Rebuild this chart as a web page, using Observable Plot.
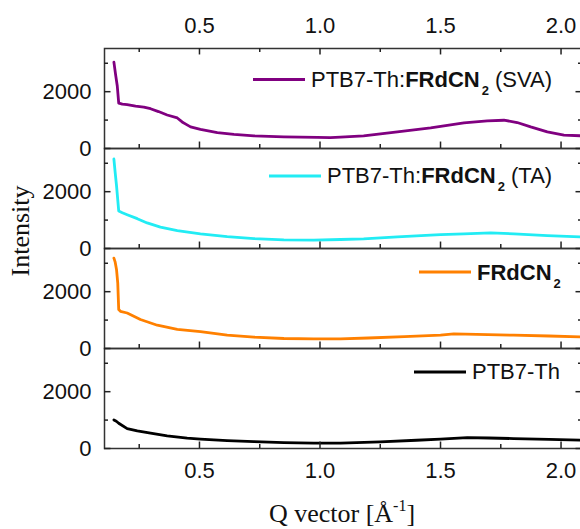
<!DOCTYPE html>
<html><head><meta charset="utf-8">
<script src="https://cdn.jsdelivr.net/npm/d3@7"></script>
<script src="https://cdn.jsdelivr.net/npm/@observablehq/plot@0.6"></script>
<style>
html,body{margin:0;padding:0;background:#fff;overflow:hidden;}
</style></head><body><div id="chart"></div>
<script>
// Panels (top to bottom)
const panels = ["SVA", "TA", "FRdCN2", "PTB7-Th"];
const colors = ["#800080", "#22ecf4", "#ff8000", "#000000"];

// PTB7-Th:FRdCN2 (SVA)
const qSVA = [0.145,0.152,0.159,0.165,0.18,0.20,0.235,0.269,0.297,0.33,0.366,0.408,0.428,0.445,0.463,0.504,0.574,0.643,0.726,0.85,0.989,1.043,1.085,1.181,1.321,1.459,1.597,1.694,1.763,1.818,1.874,1.943,2.012,2.089];
const iSVA = [3040,2600,2200,1600,1560,1545,1490,1460,1400,1300,1180,1075,935,850,760,670,560,500,445,410,390,380,400,445,585,725,900,970,995,915,760,585,470,445];

// PTB7-Th:FRdCN2 (TA)
const qTA = [0.145,0.150,0.156,0.165,0.18,0.20,0.242,0.283,0.338,0.408,0.504,0.615,0.726,0.85,0.974,1.085,1.181,1.321,1.459,1.5,1.597,1.708,1.805,1.943,2.089];
const iTA = [3150,2700,2200,1320,1260,1190,1050,900,750,630,515,420,350,305,292,316,340,410,470,490,515,550,515,456,405];

// FRdCN2
const qFR = [0.145,0.150,0.156,0.161,0.165,0.172,0.20,0.255,0.325,0.408,0.504,0.615,0.726,0.85,0.974,1.085,1.2,1.35,1.5,1.555,1.65,1.803,1.95,2.089];
const iFR = [3180,3050,2770,2300,1370,1310,1250,1020,820,670,596,470,400,352,340,340,370,420,468,515,500,468,440,410];

// PTB7-Th
const qPT = [0.145,0.155,0.165,0.20,0.242,0.297,0.366,0.449,0.504,0.615,0.726,0.85,0.974,1.085,1.25,1.4,1.5,1.611,1.70,1.803,1.95,2.089];
const iPT = [1006,960,890,700,620,540,445,365,330,280,245,210,190,190,230,290,327,386,370,350,320,292];

// Ticks
const xMajor = [0.5, 1.0, 1.5, 2.0];
const xMinor = [0.25, 0.75, 1.25, 1.75];
const yMajor = [0, 2000];
const yMinor = [1000, 3000];

const seriesQ = [qSVA, qTA, qFR, qPT];
const seriesI = [iSVA, iTA, iFR, iPT];
const rows = [];
panels.forEach((p, k) => seriesQ[k].forEach((q, j) => rows.push({panel: p, q, i: seriesI[k][j]})));

const F = "'Liberation Sans', Arial, sans-serif";
const W = 580, H = 529, ML = 104, MR = -2, MT = 47, MB = 80;
const X0 = 0.106, X1 = 2.089, Y0 = 0, Y1 = 3520;
const PW = W - ML - MR;
const PH = (H - MT - MB) / panels.length;
const dx = px => px * (X1 - X0) / PW;  // pixel length -> x units
const dy = px => px * (Y1 - Y0) / PH;  // pixel length -> y units
const TS = "#222", TW = 1.5;

const allPanels = (arr) => panels.flatMap(p => arr.map(v => ({v, panel: p})));
const topPanel = (arr) => arr.map(v => ({v, panel: panels[0]}));

const svg = Plot.plot({
  width: W, height: H,
  marginLeft: ML, marginRight: MR, marginTop: MT, marginBottom: MB,
  style: {background: "white", fontFamily: F, color: "#111"},
  x: {domain: [X0, X1], label: null},
  y: {domain: [Y0, Y1], label: null},
  fy: {domain: panels, padding: 0, axis: null, label: null},
  color: {domain: panels, range: colors},
  marks: [
    Plot.line(rows, {x: "q", y: "i", fy: "panel", stroke: "panel", strokeWidth: 2.8}),
    Plot.frame({stroke: "#333", strokeWidth: 1.5}),
    // inward ticks, bottom of every panel
    Plot.ruleX(allPanels(xMajor), {x: "v", y1: Y0, y2: Y0 + dy(6.5), fy: "panel", stroke: TS, strokeWidth: TW}),
    Plot.ruleX(allPanels(xMinor), {x: "v", y1: Y0, y2: Y0 + dy(4), fy: "panel", stroke: TS, strokeWidth: TW}),
    // inward ticks, top of top panel
    Plot.ruleX(topPanel(xMajor), {x: "v", y1: Y1, y2: Y1 - dy(6.5), fy: "panel", stroke: TS, strokeWidth: TW}),
    Plot.ruleX(topPanel(xMinor), {x: "v", y1: Y1, y2: Y1 - dy(4), fy: "panel", stroke: TS, strokeWidth: TW}),
    // inward ticks, left and right
    Plot.ruleY(allPanels(yMajor), {y: "v", x1: X0, x2: X0 + dx(6.5), fy: "panel", stroke: TS, strokeWidth: TW}),
    Plot.ruleY(allPanels(yMinor), {y: "v", x1: X0, x2: X0 + dx(4), fy: "panel", stroke: TS, strokeWidth: TW}),
    Plot.ruleY(allPanels(yMajor), {y: "v", x1: X1, x2: X1 - dx(6.5), fy: "panel", stroke: TS, strokeWidth: TW}),
    Plot.ruleY(allPanels(yMinor), {y: "v", x1: X1, x2: X1 - dx(4), fy: "panel", stroke: TS, strokeWidth: TW}),
    // tick labels
    Plot.axisX(xMajor, {anchor: "top", tickSize: 0, tickPadding: 15.6, fontSize: 22, fontFamily: F, tickFormat: d3.format(".1f"), label: null}),
    Plot.axisX(xMajor, {anchor: "bottom", tickSize: 0, tickPadding: 14, fontSize: 22, fontFamily: F, tickFormat: d3.format(".1f"), label: null}),
    Plot.axisY(yMajor, {anchor: "left", tickSize: 0, tickPadding: 13, fontSize: 22, fontFamily: F, tickFormat: d3.format("d"), label: null})
  ]
});
document.getElementById("chart").appendChild(svg);

const s = d3.select(svg);
// Axis titles
s.append("text")
  .attr("transform", "translate(29,231) rotate(-90)")
  .attr("text-anchor", "middle")
  .attr("font-family", "'Liberation Serif', 'Times New Roman', serif")
  .attr("font-size", 26).attr("fill", "#111")
  .text("Intensity");
const xt = s.append("text")
  .attr("x", 342).attr("y", 522)
  .attr("text-anchor", "middle")
  .attr("font-family", "'Liberation Serif', 'Times New Roman', serif")
  .attr("font-size", 26).attr("fill", "#111");
xt.append("tspan").text("Q vector [Å");
xt.append("tspan").attr("font-size", 16).attr("dy", -11).text("-1");
xt.append("tspan").attr("dy", 11).text("]");

// Legends
const legends = [
  {x: 311, y: 87, ly: 79.5, parts: [["PTB7-Th:", 0], ["FRdCN", 1], ["2", 2], [" (SVA)", 0]]},
  {x: 327, y: 183, ly: 176, parts: [["PTB7-Th:", 0], ["FRdCN", 1], ["2", 2], [" (TA)", 0]]},
  {x: 477, y: 280, ly: 272, parts: [["FRdCN", 1], ["2", 2]]},
  {x: 472, y: 379, ly: 372, parts: [["PTB7-Th", 0]]}
];
legends.forEach((L, k) => {
  s.append("line").attr("x1", L.x - 58).attr("x2", L.x - 6).attr("y1", L.ly).attr("y2", L.ly)
    .attr("stroke", colors[k]).attr("stroke-width", 3);
  const t = s.append("text").attr("x", L.x).attr("y", L.y)
    .attr("text-anchor", "start")
    .attr("font-family", F).attr("font-size", 22).attr("fill", "#111");
  let shifted = false;
  L.parts.forEach(([txt, kind]) => {
    const ts = t.append("tspan").text(txt);
    if (kind === 1) ts.attr("font-weight", "bold");
    if (kind === 2) { ts.attr("font-size", 13).attr("font-weight", "bold").attr("dy", 8).attr("dx", 2); shifted = true; }
    else if (shifted) { ts.attr("dy", -8); shifted = false; }
  });
});
</script></body></html>
